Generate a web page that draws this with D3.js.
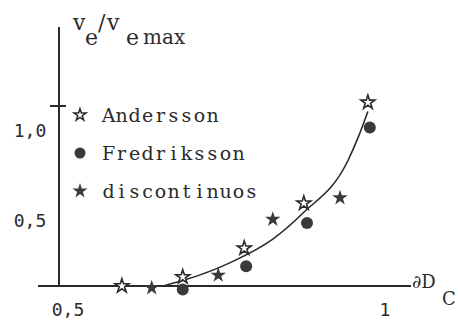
<!DOCTYPE html>
<html><head><meta charset="utf-8">
<script src="https://cdn.jsdelivr.net/npm/d3@7"></script>
<style>body{margin:0;background:#fff}</style>
</head><body>
<svg id="c" width="458" height="321"></svg>
<script>
const xTicks = [0.5, 1];
const xTickLabels = ["0,5", "1"];
const yTicks = [0.5, 1.0];
const yTickLabels = ["0,5", "1,0"];
const seriesNames = ["Andersson", "Fredriksson", "discontinuos"];
const anderssonX = [0.585, 0.681, 0.778, 0.872, 0.973];
const anderssonY = [0.0, 0.05, 0.21, 0.46, 1.02];
const fredrikssonX = [0.681, 0.781, 0.877, 0.976];
const fredrikssonY = [-0.02, 0.11, 0.35, 0.88];
const discontX = [0.632, 0.737, 0.823, 0.929];
const discontY = [-0.01, 0.06, 0.37, 0.49];
const curveX = [0.65, 0.681, 0.756, 0.823, 0.869, 0.942, 0.957, 0.973];
const curveY = [0.0, 0.03, 0.13, 0.26, 0.40, 0.70, 0.82, 0.97];

const ink = "#2b2b2b";
const serif = "DejaVu Serif";
const svg = d3.select("#c");
const x = d3.scaleLinear().domain([0.5, 1]).range([68, 385]);
const y = d3.scaleLinear().domain([0, 1]).range([286, 106]);

// axes
svg.append("line").attr("x1", 59).attr("x2", 59).attr("y1", 27).attr("y2", y(0))
  .attr("stroke", ink).attr("stroke-width", 2);
svg.append("line").attr("x1", 38).attr("x2", 411).attr("y1", y(0)).attr("y2", y(0))
  .attr("stroke", ink).attr("stroke-width", 2);
svg.append("line").attr("x1", 50).attr("x2", 66).attr("y1", y(1)).attr("y2", y(1))
  .attr("stroke", ink).attr("stroke-width", 2);

svg.selectAll(".ytl").data(yTicks).enter().append("text")
  .attr("x", 30).attr("y", d => y(d) + 24)
  .attr("text-anchor", "middle").attr("dominant-baseline", "central")
  .attr("font-family", "DejaVu Sans Mono").attr("font-size", 18).attr("fill", ink)
  .text((d, i) => yTickLabels[i]);
svg.selectAll(".xtl").data(xTicks).enter().append("text")
  .attr("x", d => x(d)).attr("y", 309)
  .attr("text-anchor", "middle").attr("dominant-baseline", "central")
  .attr("font-family", "DejaVu Sans Mono").attr("font-size", 18).attr("fill", ink)
  .text((d, i) => xTickLabels[i]);

// y axis title
const yt = svg.append("text").attr("font-family", serif).attr("font-size", 22).attr("fill", ink);
yt.append("tspan").attr("x", 73).attr("y", 30).text("v");
yt.append("tspan").attr("x", 85).attr("y", 45).text("e");
yt.append("tspan").attr("x", 98).attr("y", 30).text("/");
yt.append("tspan").attr("x", 107).attr("y", 30).text("v");
yt.append("tspan").attr("x", 126).attr("y", 45).text("e");
yt.append("tspan").attr("x", 143).attr("y", 44).attr("font-size", 20).text("max");

// x axis title
const xt = svg.append("text").attr("font-family", serif).attr("font-size", 18).attr("fill", ink);
xt.append("tspan").attr("x", 412).attr("y", 288).text("∂D");
xt.append("tspan").attr("x", 442).attr("y", 305).text("C");

// curve
const line = d3.line().x(d => x(d[0])).y(d => y(d[1])).curve(d3.curveMonotoneX);
svg.append("path").datum(curveX.map((v, i) => [v, curveY[i]]))
  .attr("d", line).attr("fill", "none").attr("stroke", ink).attr("stroke-width", 1.6);

const starPath = d3.symbol().type(d3.symbolStar).size(60)();
const starFill = d3.symbol().type(d3.symbolStar).size(75)();

svg.selectAll(".a").data(anderssonX.map((v, i) => [v, anderssonY[i]])).enter()
  .append("path").attr("d", starPath)
  .attr("transform", d => `translate(${x(d[0])},${y(d[1])})`)
  .attr("fill", "#fff").attr("stroke", ink).attr("stroke-width", 1.6);
svg.selectAll(".f").data(fredrikssonX.map((v, i) => [v, fredrikssonY[i]])).enter()
  .append("circle").attr("r", 6)
  .attr("cx", d => x(d[0])).attr("cy", d => y(d[1])).attr("fill", "#3a3a3a");
svg.selectAll(".d").data(discontX.map((v, i) => [v, discontY[i]])).enter()
  .append("path").attr("d", starFill)
  .attr("transform", d => `translate(${x(d[0])},${y(d[1])})`)
  .attr("fill", "#3a3a3a");

// legend
const legY = [115, 153, 191];
const pitch = 13;
const lg = svg.selectAll(".lg").data(seriesNames).enter().append("g")
  .attr("transform", (d, i) => `translate(80,${legY[i]})`);
lg.each(function(d, i) {
  const g = d3.select(this);
  if (i === 0) g.append("path").attr("d", d3.symbol().type(d3.symbolStar).size(45)())
    .attr("fill", "#fff").attr("stroke", ink).attr("stroke-width", 1.5);
  else if (i === 1) g.append("circle").attr("r", 5.5).attr("fill", "#3a3a3a");
  else g.append("path").attr("d", d3.symbol().type(d3.symbolStar).size(70)()).attr("fill", "#3a3a3a");
});
lg.append("text")
  .attr("x", d => d.split("").map((c, k) => 22 + k * pitch + pitch / 2).join(" "))
  .attr("y", 7).attr("text-anchor", "middle")
  .attr("font-family", serif).attr("font-size", 19).attr("fill", ink)
  .text(d => d);
</script>
</body></html>
